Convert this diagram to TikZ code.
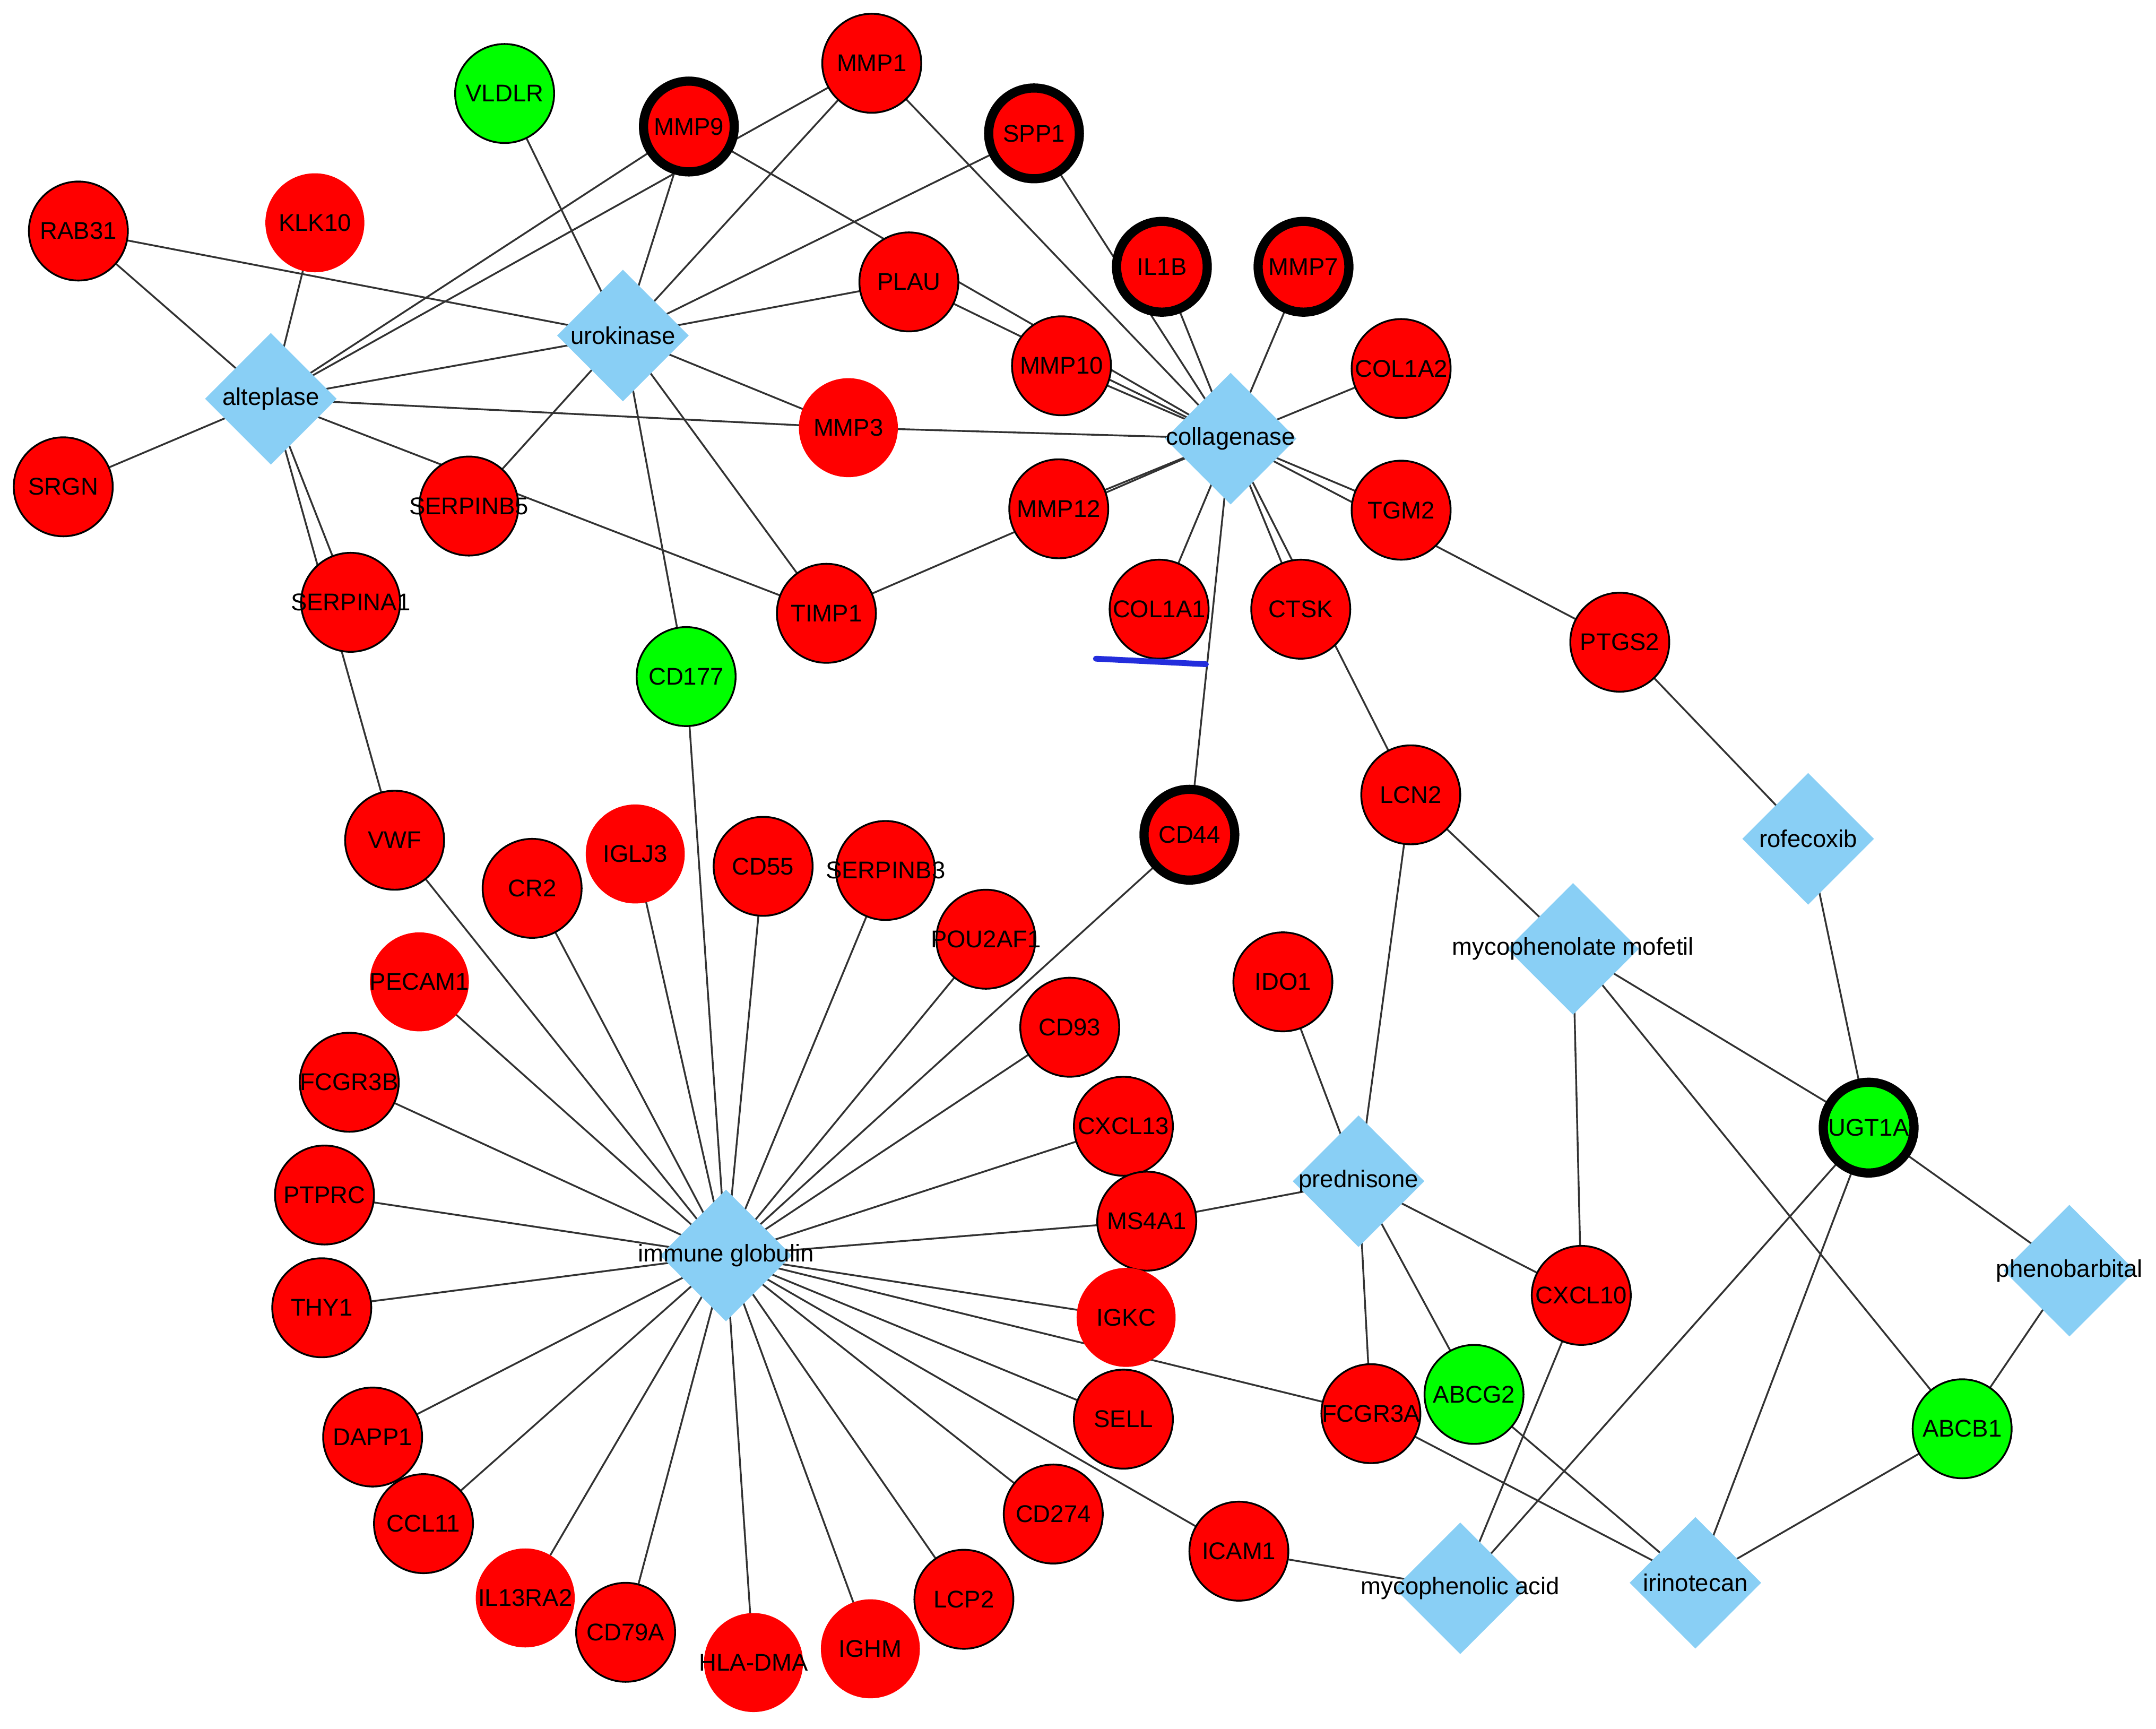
\documentclass[tikz,border=0pt]{standalone}
\usepackage{fontspec}
\setmainfont{Liberation Sans}
\usetikzlibrary{shapes.geometric,backgrounds}
\definecolor{genered}{RGB}{255,0,0}
\definecolor{genegreen}{RGB}{0,255,0}
\definecolor{drugblue}{RGB}{137,207,245}
\definecolor{edgegray}{RGB}{50,50,50}
\definecolor{markblue}{RGB}{35,45,220}
\newcommand\nt[1]{\makebox[0pt][c]{#1}}
\tikzset{
  gene/.style={circle, fill=genered, draw=black, line width=0.75pt, minimum size=1.44cm, inner sep=0pt, font=\fontsize{10}{12}\selectfont},
  nob/.style={gene, draw=none},
  hub/.style={gene, line width=3.8pt, minimum size=1.32cm},
  grn/.style={fill=genegreen},
  drug/.style={diamond, fill=drugblue, draw=none, minimum width=1.92cm, minimum height=1.92cm, inner sep=0pt},
  druglabel/.style={font=\fontsize{10}{12}\selectfont, inner sep=0pt},
  edge/.style={draw=edgegray, line width=0.75pt},
  bluemark/.style={draw=markblue, line width=2.4pt, line cap=round}
}
\begin{document}
\begin{tikzpicture}[x=0.02cm,y=-0.02cm]
\useasboundingbox (0,0) rectangle (1568,1257);
% drugs
\node[drug] (alteplase) at (197,290) {};
\node[drug] (urokinase) at (453,244) {};
\node[drug] (collagenase) at (895,319) {};
\node[drug] (rofecoxib) at (1315,610) {};
\node[drug] (mycmof) at (1144,690) {};
\node[drug] (prednisone) at (988,859) {};
\node[drug] (immglob) at (528,913) {};
\node[drug] (phenobarbital) at (1505,924) {};
\node[drug] (mycacid) at (1062,1155) {};
\node[drug] (irinotecan) at (1233,1151) {};
% genes
\node[gene] (MMP1) at (634,46) {\nt{MMP1}};
\node[gene,grn] (VLDLR) at (367,68) {\nt{VLDLR}};
\node[hub] (MMP9) at (501,92) {\nt{MMP9}};
\node[hub] (SPP1) at (752,97) {\nt{SPP1}};
\node[gene] (RAB31) at (57,168) {\nt{RAB31}};
\node[nob] (KLK10) at (229,162) {\nt{KLK10}};
\node[gene] (PLAU) at (661,205) {\nt{PLAU}};
\node[hub] (IL1B) at (845,194) {\nt{IL1B}};
\node[hub] (MMP7) at (948,194) {\nt{MMP7}};
\node[gene] (MMP10) at (772,266) {\nt{MMP10}};
\node[gene] (COL1A2) at (1019,268) {\nt{COL1A2}};
\node[nob] (MMP3) at (617,311) {\nt{MMP3}};
\node[gene] (SRGN) at (46,354) {\nt{SRGN}};
\node[gene] (SERPINB5) at (341,368) {\nt{SERPINB5}};
\node[gene] (MMP12) at (770,370) {\nt{MMP12}};
\node[gene] (TGM2) at (1019,371) {\nt{TGM2}};
\node[gene] (SERPINA1) at (255,438) {\nt{SERPINA1}};
\node[gene] (TIMP1) at (601,446) {\nt{TIMP1}};
\node[gene] (COL1A1) at (843,443) {\nt{COL1A1}};
\node[gene] (CTSK) at (946,443) {\nt{CTSK}};
\node[gene] (PTGS2) at (1178,467) {\nt{PTGS2}};
\node[gene,grn] (CD177) at (499,492) {\nt{CD177}};
\node[gene] (LCN2) at (1026,578) {\nt{LCN2}};
\node[hub] (CD44) at (865,607) {\nt{CD44}};
\node[gene] (VWF) at (287,611) {\nt{VWF}};
\node[nob] (IGLJ3) at (462,621) {\nt{IGLJ3}};
\node[gene] (CD55) at (555,630) {\nt{CD55}};
\node[gene] (SERPINB3) at (644,633) {\nt{SERPINB3}};
\node[gene] (CR2) at (387,646) {\nt{CR2}};
\node[gene] (POU2AF1) at (717,683) {\nt{POU2AF1}};
\node[nob] (PECAM1) at (305,714) {\nt{PECAM1}};
\node[gene] (IDO1) at (933,714) {\nt{IDO1}};
\node[gene] (CD93) at (778,747) {\nt{CD93}};
\node[gene] (FCGR3B) at (254,787) {\nt{FCGR3B}};
\node[gene] (CXCL13) at (817,819) {\nt{CXCL13}};
\node[hub,grn] (UGT1A) at (1359,820) {\nt{UGT1A}};
\node[gene] (PTPRC) at (236,869) {\nt{PTPRC}};
\node[gene] (MS4A1) at (834,888) {\nt{MS4A1}};
\node[gene] (THY1) at (234,951) {\nt{THY1}};
\node[gene] (CXCL10) at (1150,942) {\nt{CXCL10}};
\node[nob] (IGKC) at (819,958) {\nt{IGKC}};
\node[gene,grn] (ABCG2) at (1072,1014) {\nt{ABCG2}};
\node[gene] (FCGR3A) at (997,1028) {\nt{FCGR3A}};
\node[gene] (SELL) at (817,1032) {\nt{SELL}};
\node[gene,grn] (ABCB1) at (1427,1039) {\nt{ABCB1}};
\node[gene] (DAPP1) at (271,1045) {\nt{DAPP1}};
\node[gene] (CD274) at (766,1101) {\nt{CD274}};
\node[gene] (CCL11) at (308,1108) {\nt{CCL11}};
\node[gene] (ICAM1) at (901,1128) {\nt{ICAM1}};
\node[nob] (IL13RA2) at (382,1162) {\nt{IL13RA2}};
\node[gene] (LCP2) at (701,1163) {\nt{LCP2}};
\node[gene] (CD79A) at (455,1187) {\nt{CD79A}};
\node[nob] (IGHM) at (633,1199) {\nt{IGHM}};
\node[nob] (HLADMA) at (548,1209) {\nt{HLA-DMA}};
% drug labels
\node[druglabel] (alteplase-t) at (alteplase) {alteplase};
\node[druglabel] (urokinase-t) at (urokinase) {urokinase};
\node[druglabel] (collagenase-t) at (collagenase) {collagenase};
\node[druglabel] (rofecoxib-t) at (rofecoxib) {rofecoxib};
\node[druglabel] (mycmof-t) at (mycmof) {mycophenolate mofetil};
\node[druglabel] (prednisone-t) at (prednisone) {prednisone};
\node[druglabel] (immglob-t) at (immglob) {immune globulin};
\node[druglabel] (phenobarbital-t) at (phenobarbital) {phenobarbital};
\node[druglabel] (mycacid-t) at (mycacid) {mycophenolic acid};
\node[druglabel] (irinotecan-t) at (irinotecan) {irinotecan};
% blue mark
\coordinate (bm1) at (797,479);
\coordinate (bm2) at (877,483);
\draw[bluemark] (bm1) -- (bm2);
\begin{pgfonlayer}{background}
\foreach \a/\b in {
 alteplase/RAB31, alteplase/KLK10, alteplase/SRGN, alteplase/MMP9, alteplase/MMP1,
 alteplase/urokinase, alteplase/MMP3, alteplase/TIMP1, alteplase/SERPINA1, alteplase/VWF,
 urokinase/VLDLR, urokinase/MMP9, urokinase/MMP1, urokinase/RAB31, urokinase/SPP1,
 urokinase/PLAU, urokinase/MMP3, urokinase/TIMP1, urokinase/SERPINB5, urokinase/CD177,
 collagenase/MMP1, collagenase/MMP9, collagenase/SPP1, collagenase/IL1B, collagenase/MMP7,
 collagenase/COL1A2, collagenase/PLAU, collagenase/MMP10, collagenase/MMP3, collagenase/MMP12,
 collagenase/TIMP1, collagenase/TGM2, collagenase/PTGS2, collagenase/CTSK, collagenase/LCN2,
 collagenase/COL1A1, collagenase/CD44,
 rofecoxib/PTGS2, rofecoxib/UGT1A,
 mycmof/LCN2, mycmof/UGT1A, mycmof/CXCL10, mycmof/ABCB1,
 prednisone/LCN2, prednisone/IDO1, prednisone/MS4A1, prednisone/CXCL10, prednisone/FCGR3A, prednisone/ABCG2,
 immglob/VWF, immglob/CR2, immglob/IGLJ3, immglob/CD177, immglob/CD55, immglob/SERPINB3,
 immglob/POU2AF1, immglob/CD44, immglob/CD93, immglob/CXCL13, immglob/MS4A1, immglob/IGKC,
 immglob/FCGR3A, immglob/SELL, immglob/ICAM1, immglob/CD274, immglob/LCP2, immglob/IGHM,
 immglob/HLADMA, immglob/CD79A, immglob/IL13RA2, immglob/CCL11, immglob/DAPP1, immglob/THY1,
 immglob/PTPRC, immglob/FCGR3B, immglob/PECAM1,
 phenobarbital/UGT1A, phenobarbital/ABCB1,
 mycacid/ICAM1, mycacid/CXCL10, mycacid/UGT1A,
 irinotecan/FCGR3A, irinotecan/ABCG2, irinotecan/UGT1A, irinotecan/ABCB1}
 \draw[edge] (\a.center) -- (\b.center);
\end{pgfonlayer}
\end{tikzpicture}
\end{document}
